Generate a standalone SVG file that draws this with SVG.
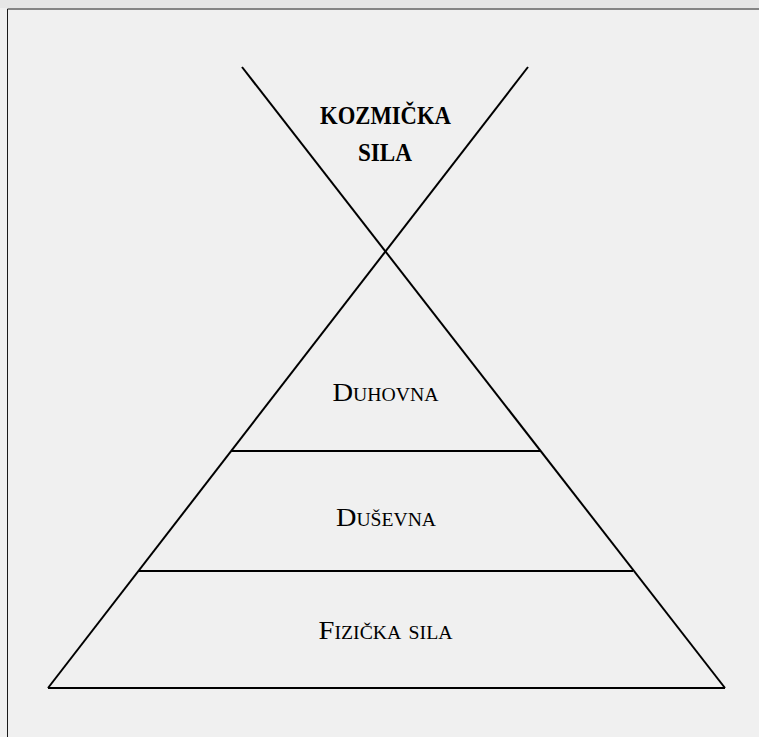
<svg xmlns="http://www.w3.org/2000/svg" width="759" height="737" viewBox="0 0 759 737">
<style>
.ln{stroke:#000;stroke-width:2;fill:none}
.lbl{font-family:"Liberation Serif","Times New Roman",serif;fill:#000;text-anchor:middle}
.sc{font-size:26px;font-variant:small-caps}
.bold{font-size:26px;font-weight:bold}
</style>
<rect x="0" y="0" width="759" height="737" fill="#f0f0f0"/>
<rect x="0" y="0" width="759" height="8" fill="#e6e6e6"/>
<path d="M7.5 737 V9 H759" fill="none" stroke="#1a1a1a" stroke-width="1"/>
<g id="connectors">
<line class="ln" x1="242" y1="67" x2="725" y2="688"/>
<line class="ln" x1="528" y1="67" x2="48" y2="688"/>
<line class="ln" x1="48" y1="688" x2="725" y2="688"/>
<line class="ln" x1="231" y1="451" x2="541" y2="451"/>
<line class="ln" x1="139" y1="571" x2="633" y2="571"/>
</g>
<g id="kozmicka">
<text class="lbl bold" x="385.5" y="124" textLength="131" lengthAdjust="spacingAndGlyphs">KOZMIČKA</text>
<text class="lbl bold" x="385" y="161" textLength="54" lengthAdjust="spacingAndGlyphs">SILA</text>
</g>
<g id="duhovna">
<text class="lbl sc" x="385.5" y="400.5" textLength="106" lengthAdjust="spacingAndGlyphs">Duhovna</text>
</g>
<g id="dusevna">
<text class="lbl sc" x="386" y="525.5" textLength="100" lengthAdjust="spacingAndGlyphs">Duševna</text>
</g>
<g id="fizicka">
<text class="lbl sc" x="385.5" y="639" textLength="134" lengthAdjust="spacingAndGlyphs">Fizička sila</text>
</g>
</svg>
